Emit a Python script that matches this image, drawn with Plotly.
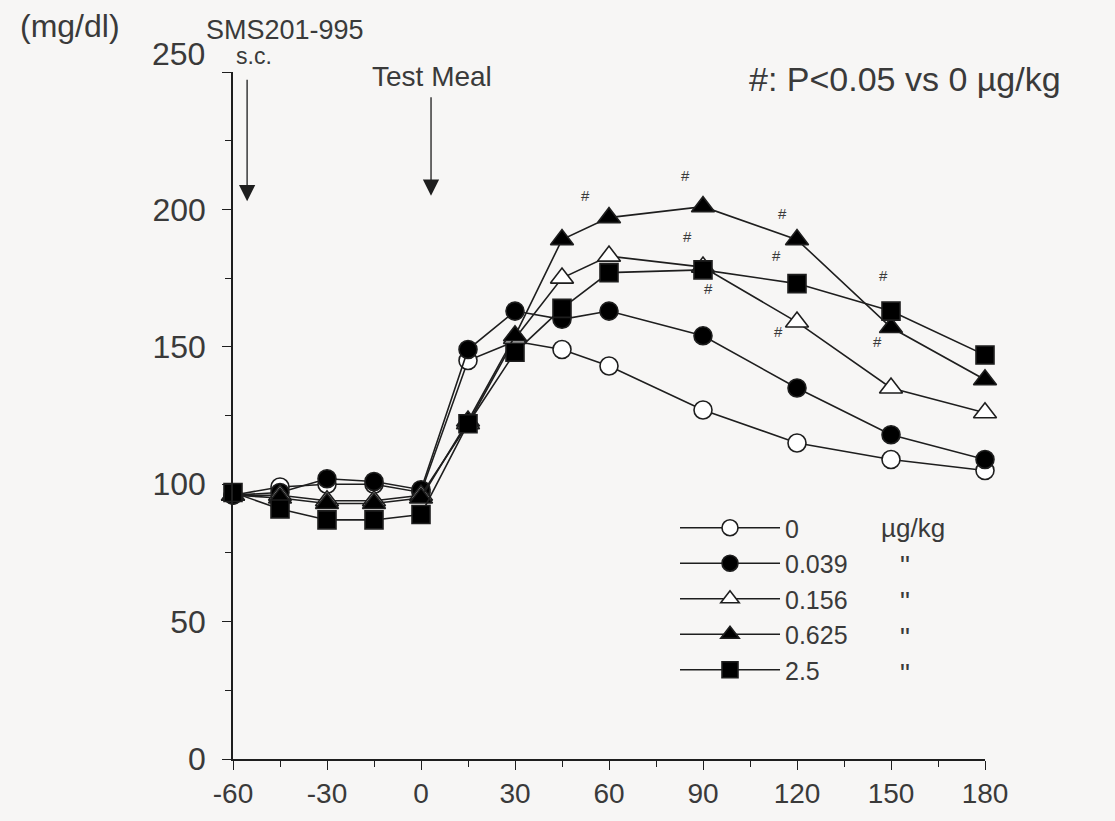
import plotly.graph_objects as go

# ---------------- data ----------------
times = [-60, -45, -30, -15, 0, 15, 30, 45, 60, 90, 120, 150, 180]
dose_labels = ["0", "0.039", "0.156", "0.625", "2.5"]
glc_0 = [96, 99, 100, 100, 97, 145, 152, 149, 143, 127, 115, 109, 105]
glc_0039 = [96, 97, 102, 101, 98, 149, 163, 160, 163, 154, 135, 118, 109]
glc_0156 = [96, 96, 94, 94, 96, 122, 153, 175, 183, 179, 159, 135, 126]
glc_0625 = [96, 95, 93, 93, 95, 123, 154, 189, 197, 201, 189, 157, 138]
glc_25 = [97, 91, 87, 87, 89, 122, 148, 164, 177, 178, 173, 163, 147]
series = [glc_0, glc_0039, glc_0156, glc_0625, glc_25]
symbols = ["circle", "circle", "triangle-up", "triangle-up", "square"]
fills = ["white", "black", "white", "black", "black"]
x_ticks = [-60, -30, 0, 30, 60, 90, 120, 150, 180]
y_ticks = [0, 50, 100, 150, 200, 250]
# significance marks (#) : (time, glucose) position of each mark
hash_x = [52.4, 84.3, 85.2, 91.6, 115.5, 113.6, 114.0, 147.5, 145.6, 180.7, 188.0]
hash_y = [205, 212.4, 190.1, 171.2, 198.5, 183.2, 155.5, 175.9, 151.8, 159.1, 134.7]

INK = "#1e1e1e"
TXT = "#3a3a3a"
FONT = "Liberation Sans, Arial, sans-serif"

fig = go.Figure()
sizes = [18, 18, 20, 20, 18]
for name, ys, sym, fc, sz in zip(dose_labels, series, symbols, fills, sizes):
    fig.add_trace(go.Scatter(
        x=times, y=ys, mode="lines+markers", name=name,
        line=dict(color=INK, width=1.6),
        marker=dict(symbol=sym, size=sz, color=fc, line=dict(color=INK, width=1.6)),
        cliponaxis=False,
    ))

L, R, T, B = 233, 985, 72, 759
W, H = 1115, 821


def px(x):
    return (x - L) / (R - L)


def py(y):
    return (B - y) / (B - T)


ann = []
for hx, hy in zip(hash_x, hash_y):
    ann.append(dict(x=hx, y=hy, xref="x", yref="y", text="#", showarrow=False,
                    font=dict(size=15, color=TXT, family=FONT)))

# top y tick label (drawn slightly raised, as in the original)
ann.append(dict(x=px(207), y=py(54), xref="paper", yref="paper", text=str(y_ticks[-1]),
                showarrow=False, xanchor="right", yanchor="middle",
                font=dict(size=32, color=TXT, family=FONT)))

ann += [
    dict(x=px(70), y=py(26), xref="paper", yref="paper", text="(mg/dl)", showarrow=False,
         xanchor="center", yanchor="middle", font=dict(size=32, color=TXT, family=FONT)),
    dict(x=px(285), y=py(30), xref="paper", yref="paper", text="SMS201-995", showarrow=False,
         xanchor="center", yanchor="middle", font=dict(size=27, color=TXT, family=FONT)),
    dict(x=px(254), y=py(56), xref="paper", yref="paper", text="s.c.", showarrow=False,
         xanchor="center", yanchor="middle", font=dict(size=23, color=TXT, family=FONT)),
    dict(x=px(432), y=py(77), xref="paper", yref="paper", text="Test Meal", showarrow=False,
         xanchor="center", yanchor="middle", font=dict(size=28, color=TXT, family=FONT)),
    dict(x=px(905), y=py(79), xref="paper", yref="paper", text="#: P<0.05 vs 0 µg/kg",
         showarrow=False, xanchor="center", yanchor="middle",
         font=dict(size=34, color=TXT, family=FONT)),
    # arrows
    dict(x=-55.5, y=203, xref="x", yref="y", text="", showarrow=True, ax=0, ay=-123,
         arrowhead=2, arrowsize=2.5, arrowwidth=1.3, arrowcolor=INK),
    dict(x=3.2, y=205, xref="x", yref="y", text="", showarrow=True, ax=0, ay=-100,
         arrowhead=2, arrowsize=2.5, arrowwidth=1.3, arrowcolor=INK),
    # legend unit column
    dict(x=px(913), y=py(528), xref="paper", yref="paper", text="µg/kg", showarrow=False,
         xanchor="center", yanchor="middle", font=dict(size=26, color=TXT, family=FONT)),
]
for rowy in [565, 601, 637, 673]:
    ann.append(dict(x=px(905), y=py(rowy), xref="paper", yref="paper", text='"',
                    showarrow=False, xanchor="center", yanchor="middle",
                    font=dict(size=28, color=TXT, family=FONT)))

fig.update_layout(
    width=W, height=H,
    margin=dict(l=L, r=W - R, t=T, b=H - B, pad=0),
    paper_bgcolor="#f7f6f5", plot_bgcolor="#f7f6f5",
    font=dict(family=FONT, color=TXT),
    showlegend=True,
    legend=dict(x=px(675), y=py(505), xanchor="left", yanchor="top",
                bgcolor="rgba(0,0,0,0)", font=dict(size=25, color=TXT, family=FONT),
                itemwidth=100, tracegroupgap=0),
    annotations=ann,
    xaxis=dict(range=[-60, 180], tickvals=x_ticks, ticktext=[str(v) for v in x_ticks],
               showgrid=False, zeroline=False, showline=True, linecolor=INK, linewidth=1.5,
               ticks="outside", ticklen=9, tickwidth=1.4, tickcolor=INK,
               tickfont=dict(size=28, family="Liberation Sans Narrow, Arial Narrow, Liberation Sans",
                             color=TXT),
               minor=dict(ticks="outside", ticklen=6, tickwidth=1.2, tickcolor=INK, dtick=15,
                          tick0=-60, showgrid=False)),
    yaxis=dict(range=[0, 250], tickvals=y_ticks,
               ticktext=[str(v) for v in y_ticks[:-1]] + [""],
               showgrid=False, zeroline=False, showline=True, linecolor=INK, linewidth=1.5,
               ticks="outside", ticklen=9, tickwidth=1.4, tickcolor=INK,
               tickfont=dict(size=32, family=FONT, color=TXT), ticklabelstandoff=10,
               minor=dict(ticks="outside", ticklen=6, tickwidth=1.2, tickcolor=INK, dtick=25,
                          tick0=0, showgrid=False)),
)

fig.write_html("out.html", config={"displayModeBar": False},
               post_script="document.body.style.margin='0px';")
